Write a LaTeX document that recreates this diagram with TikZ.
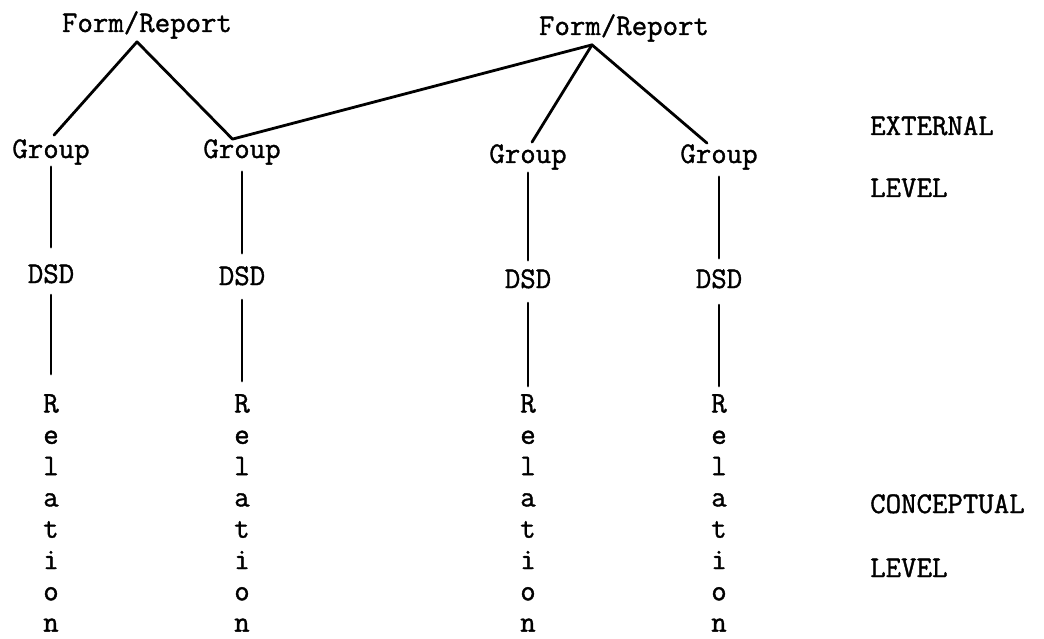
\documentclass[tikz,border=0pt]{standalone}
\usepackage{fontspec}
\setmonofont{Latin Modern Mono}[FakeBold=1.2]
\begin{document}
\begin{tikzpicture}[x=1pt,y=-1pt,
  lbl/.style={font=\ttfamily\fontsize{30}{31.3}\selectfont, inner sep=0pt, anchor=base},
  side/.style={lbl, anchor=base west},
  stack/.style={lbl, anchor=north, align=center},
  wire/.style={line width=2.8pt, line cap=round, line join=round},
]
\useasboundingbox (0,0) rectangle (1044,639);
\fill[white] (0,0) rectangle (1044,639);

% forms / reports
\node[lbl] (f1) at (147,32) {Form/Report};
\node[lbl] (f2) at (624,35) {Form/Report};

% groups
\node[lbl] (g1) at (51,158)  {Group};
\node[lbl] (g2) at (242,158) {Group};
\node[lbl] (g3) at (528,163) {Group};
\node[lbl] (g4) at (719,163) {Group};

% data structure diagrams
\node[lbl] (d1) at (51,283)  {DSD};
\node[lbl] (d2) at (242,285) {DSD};
\node[lbl] (d3) at (528,288) {DSD};
\node[lbl] (d4) at (719,288) {DSD};

% relations, written downwards
\node[stack] (r1) at (51,394)  {R\\e\\l\\a\\t\\i\\o\\n};
\node[stack] (r2) at (242,394) {R\\e\\l\\a\\t\\i\\o\\n};
\node[stack] (r3) at (528,394) {R\\e\\l\\a\\t\\i\\o\\n};
\node[stack] (r4) at (719,394) {R\\e\\l\\a\\t\\i\\o\\n};

% level captions
\node[side] (ext)  at (870,135) {EXTERNAL};
\node[side] (extl) at (870,197) {LEVEL};
\node[side] (con)  at (870,513) {CONCEPTUAL};
\node[side] (conl) at (870,577) {LEVEL};

% form/report to group links
\draw[wire] ([xshift=3pt,yshift=4pt]g1.north) -- ([xshift=-10pt,yshift=-3pt]f1.south)
  -- ([xshift=-9.5pt]g2.north) -- ([xshift=-32pt,yshift=-3pt]f2.south);
\draw[wire] ([xshift=-32pt,yshift=-3pt]f2.south) -- ([xshift=4pt,yshift=2pt]g3.north);
\draw[wire] ([xshift=-32pt,yshift=-3pt]f2.south) -- ([xshift=-12pt,yshift=1pt]g4.north);

% group to DSD
\draw[wire, shorten <=2pt, shorten >=17pt] (g1.south) -- (d1.north);
\draw[wire, shorten <=7pt, shorten >=13pt] (g2.south) -- (d2.north);
\draw[wire, shorten <=3pt, shorten >=9pt]  (g3.south) -- (d3.north);
\draw[wire, shorten <=7pt, shorten >=11pt] (g4.south) -- (d4.north);

% DSD to relation
\draw[wire, shorten <=11.5pt, shorten >=20pt] (d1.south) -- (r1.north);
\draw[wire, shorten <=14.5pt, shorten >=13pt] (d2.south) -- (r2.north);
\draw[wire, shorten <=14.5pt, shorten >=8pt]  (d3.south) -- (r3.north);
\draw[wire, shorten <=16.5pt, shorten >=8pt]  (d4.south) -- (r4.north);
\end{tikzpicture}
\end{document}
